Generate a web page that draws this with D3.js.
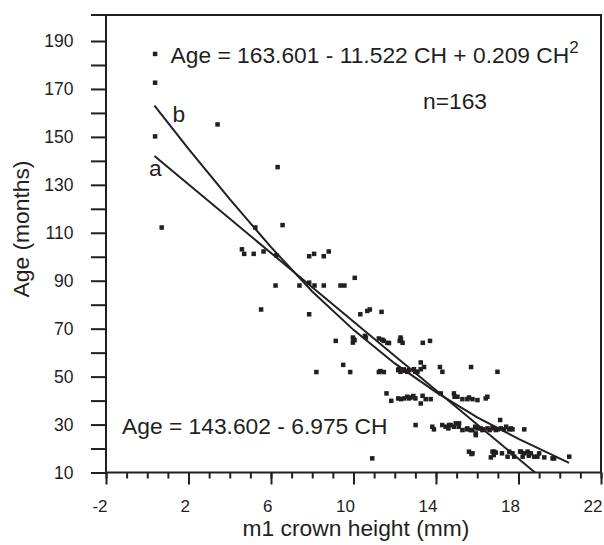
<!DOCTYPE html>
<html>
<head>
<meta charset="utf-8">
<script src="https://cdn.jsdelivr.net/npm/d3@7/dist/d3.min.js"></script>
<style>
  html, body { margin: 0; padding: 0; background: #fff; }
  svg { display: block; }
  text { font-family: "Liberation Sans", Arial, Helvetica, sans-serif; fill: #231f20; }
</style>
</head>
<body>
<div id="chart"></div>
<script>
// ---- data ----
const crownHeight = [
  0.38,0.38,0.38,0.70,3.41,6.32,5.24,6.56,
  4.59,4.70,5.16,5.64,6.26,7.85,8.09,8.56,8.80,
  6.22,7.38,7.85,8.11,8.56,9.37,9.56,10.06,
  5.52,7.85,10.33,10.67,10.79,11.36,
  9.14,9.97,9.97,10.05,10.55,11.23,11.47,11.72,12.24,12.38,12.28,13.36,13.71,11.64,
  9.50,8.20,9.84,11.23,11.47,12.17,12.20,12.28,12.44,12.61,12.93,13.10,13.26,13.42,13.26,14.19,14.31,15.70,16.98,
  11.60,11.83,12.17,12.45,12.69,12.90,12.77,13.26,13.35,13.50,13.74,14.23,14.87,15.04,15.28,15.52,15.77,16.01,16.49,16.41,
  13.01,13.82,13.90,14.47,14.63,14.71,14.87,14.96,15.12,15.28,15.49,15.52,15.68,15.77,15.93,15.93,16.01,16.17,16.25,16.50,16.74,16.82,16.90,17.11,17.14,17.30,17.55,17.63,17.71,18.28,
  10.91,15.60,15.72,15.77,16.66,16.74,16.82,16.90,17.47,17.55,17.71,17.79,18.08,18.12,18.28,18.44,18.60,18.76,18.92,19.25,19.65,20.46,19.73,
  16.3,15.1,14.6,17.0,15.9,16.6,14.3,17.4,
  12.3,13.0,15.6,14.9,12.6,
  12.7,13.0,12.5,11.3,
  17.2,18.2,19.0,16.8,18.5,
  10.0,11.4,12.3,10.6
];
const ageMonths = [
  184.6,172.6,150.2,112.2,155.2,137.4,112.2,113.2,
  103.1,101.2,101.2,102.2,100.6,100.2,101.2,100.2,102.2,
  88.0,88.0,89.2,88.0,88.0,88.0,88.0,91.2,
  78.0,76.0,76.0,77.4,78.0,77.0,
  64.9,66.3,64.2,65.2,67.0,65.9,64.9,64.0,64.9,64.1,66.3,64.1,64.9,64.1,
  54.9,51.9,51.9,51.9,51.9,52.7,53.1,52.0,53.0,52.0,53.1,52.0,53.1,54.0,55.9,54.0,52.0,54.0,52.0,
  43.0,39.9,40.9,40.9,40.9,41.9,41.3,38.8,42.0,40.6,40.6,43.0,43.0,41.6,40.6,40.6,40.6,40.2,41.6,40.9,
  29.8,29.1,28.0,29.1,29.8,29.8,29.1,30.5,30.5,27.7,28.0,28.4,27.7,27.7,26.3,25.6,28.4,28.4,27.7,28.4,28.8,28.4,27.7,31.9,28.4,28.0,28.0,28.4,28.0,28.0,
  15.9,18.7,17.7,18.0,16.3,18.7,18.7,18.3,16.6,18.7,18.0,16.6,18.7,18.7,18.0,18.7,18.0,16.6,16.6,16.3,15.9,16.6,15.9,
  28.0,29.1,28.4,28.0,29.1,27.7,29.8,29.1,
  40.6,40.9,41.3,41.6,41.6,
  52.7,52.0,52.4,52.3,
  18.0,16.6,18.0,17.3,17.0,
  65.6,65.4,65.6,66.3
];
// fitted line a (linear) and curve b (quadratic), as drawn
const lineA_CH  = [0.35, 18.8];
const lineA_Age = [142, 10];
const curveB_CH  = [0.35, 2, 4, 6, 8, 10, 12, 14, 16, 18, 20.45];
const curveB_Age = [163, 145, 124, 104, 85.5, 69.5, 55.5, 43.5, 33, 24, 14];

const xMajorTicks = [-2, 2, 6, 10, 14, 18, 22];
const xMinorTicks = d3.range(-2, 23, 1);
const yLabelTicks = [10, 30, 50, 70, 90, 110, 130, 150, 170, 190];
const yAllTicks = d3.range(10, 191, 10);

const eqQuad = "Age = 163.601 - 11.522 CH + 0.209 CH";
const eqLin = "Age = 143.602 - 6.975 CH";
const nText = "n=163";
const xTitle = "m1 crown height (mm)";
const yTitle = "Age (months)";

// ---- drawing ----
const W = 604, H = 545;
const ink = "#231f20";
const svg = d3.select("#chart").append("svg").attr("width", W).attr("height", H);

const x = d3.scaleLinear().domain([-2, 22]).range([106, 601]);
const y = d3.scaleLinear().domain([10, 190]).range([472.5, 41]);
const frameTop = 15;

// frame: top and right lines
svg.append("path")
  .attr("d", `M91,${frameTop} H${x(22)} V${y(10)}`)
  .attr("fill", "none").attr("stroke", ink).attr("stroke-width", 2);

// y axis
const yAxis = d3.axisLeft(y).tickValues(yAllTicks).tickSize(15).tickFormat("");
const gy = svg.append("g").attr("transform", `translate(${x(-2)},0)`).call(yAxis);
gy.select(".domain").attr("stroke", ink).attr("stroke-width", 2).attr("d", `M0,${frameTop}V${y(10)}`);
gy.selectAll(".tick line").attr("stroke", ink).attr("stroke-width", 2);
svg.append("g").selectAll("text").data(yLabelTicks).join("text")
  .attr("x", 73.5).attr("y", d => y(d)).attr("dy", "0.36em")
  .attr("text-anchor", "end").attr("font-size", 17.5).text(d => d);

// x axis minor + major ticks
const xAxisMinor = d3.axisBottom(x).tickValues(xMinorTicks).tickSize(6).tickFormat("");
const gxm = svg.append("g").attr("transform", `translate(0,${y(10)})`).call(xAxisMinor);
gxm.select(".domain").attr("stroke", ink).attr("stroke-width", 2).attr("d", `M${x(-2)},0H${x(22)}`);
gxm.selectAll(".tick line").attr("stroke", ink).attr("stroke-width", 2);
const xAxisMajor = d3.axisBottom(x).tickValues(xMajorTicks).tickSize(12).tickFormat("");
const gxM = svg.append("g").attr("transform", `translate(0,${y(10)})`).call(xAxisMajor);
gxM.select(".domain").remove();
gxM.selectAll(".tick line").attr("stroke", ink).attr("stroke-width", 2);
svg.append("g").selectAll("text").data(xMajorTicks).join("text")
  .attr("x", d => x(d) + 1.5).attr("y", 512)
  .attr("text-anchor", "end").attr("font-size", 17).text(d => d);

// axis titles
svg.append("text").attr("x", 356).attr("y", 536).attr("text-anchor", "middle")
  .attr("font-size", 22.8).text(xTitle);
svg.append("text").attr("transform", "translate(29,229) rotate(-90)")
  .attr("text-anchor", "middle").attr("font-size", 22.8).text(yTitle);

// points
const pts = crownHeight.map((c, i) => ({c, a: ageMonths[i]}));
const s = 4.5;
svg.append("g").selectAll("rect").data(pts).join("rect")
  .attr("x", d => x(d.c) - s / 2).attr("y", d => y(d.a) - s / 2)
  .attr("width", s).attr("height", s).attr("fill", ink);

// fit lines
const line = d3.line().x(d => x(d[0])).y(d => y(d[1]));
svg.append("path").datum(lineA_CH.map((c, i) => [c, lineA_Age[i]]))
  .attr("d", line).attr("fill", "none").attr("stroke", ink).attr("stroke-width", 2);
svg.append("path").datum(curveB_CH.map((c, i) => [c, curveB_Age[i]]))
  .attr("d", line).attr("fill", "none").attr("stroke", ink).attr("stroke-width", 2);

// labels
svg.append("text").attr("x", 149).attr("y", 176).attr("font-size", 22.8).text("a");
svg.append("text").attr("x", 172.5).attr("y", 122).attr("font-size", 22.8).text("b");

const eq = svg.append("text").attr("x", 170.5).attr("y", 63).attr("font-size", 22.8);
eq.append("tspan").text(eqQuad);
eq.append("tspan").attr("font-size", 17).attr("dy", -10).text("2");

svg.append("text").attr("x", 423).attr("y", 109).attr("font-size", 22.8).text(nText);
svg.append("text").attr("x", 122).attr("y", 434).attr("font-size", 22.8).text(eqLin);
</script>
</body>
</html>
